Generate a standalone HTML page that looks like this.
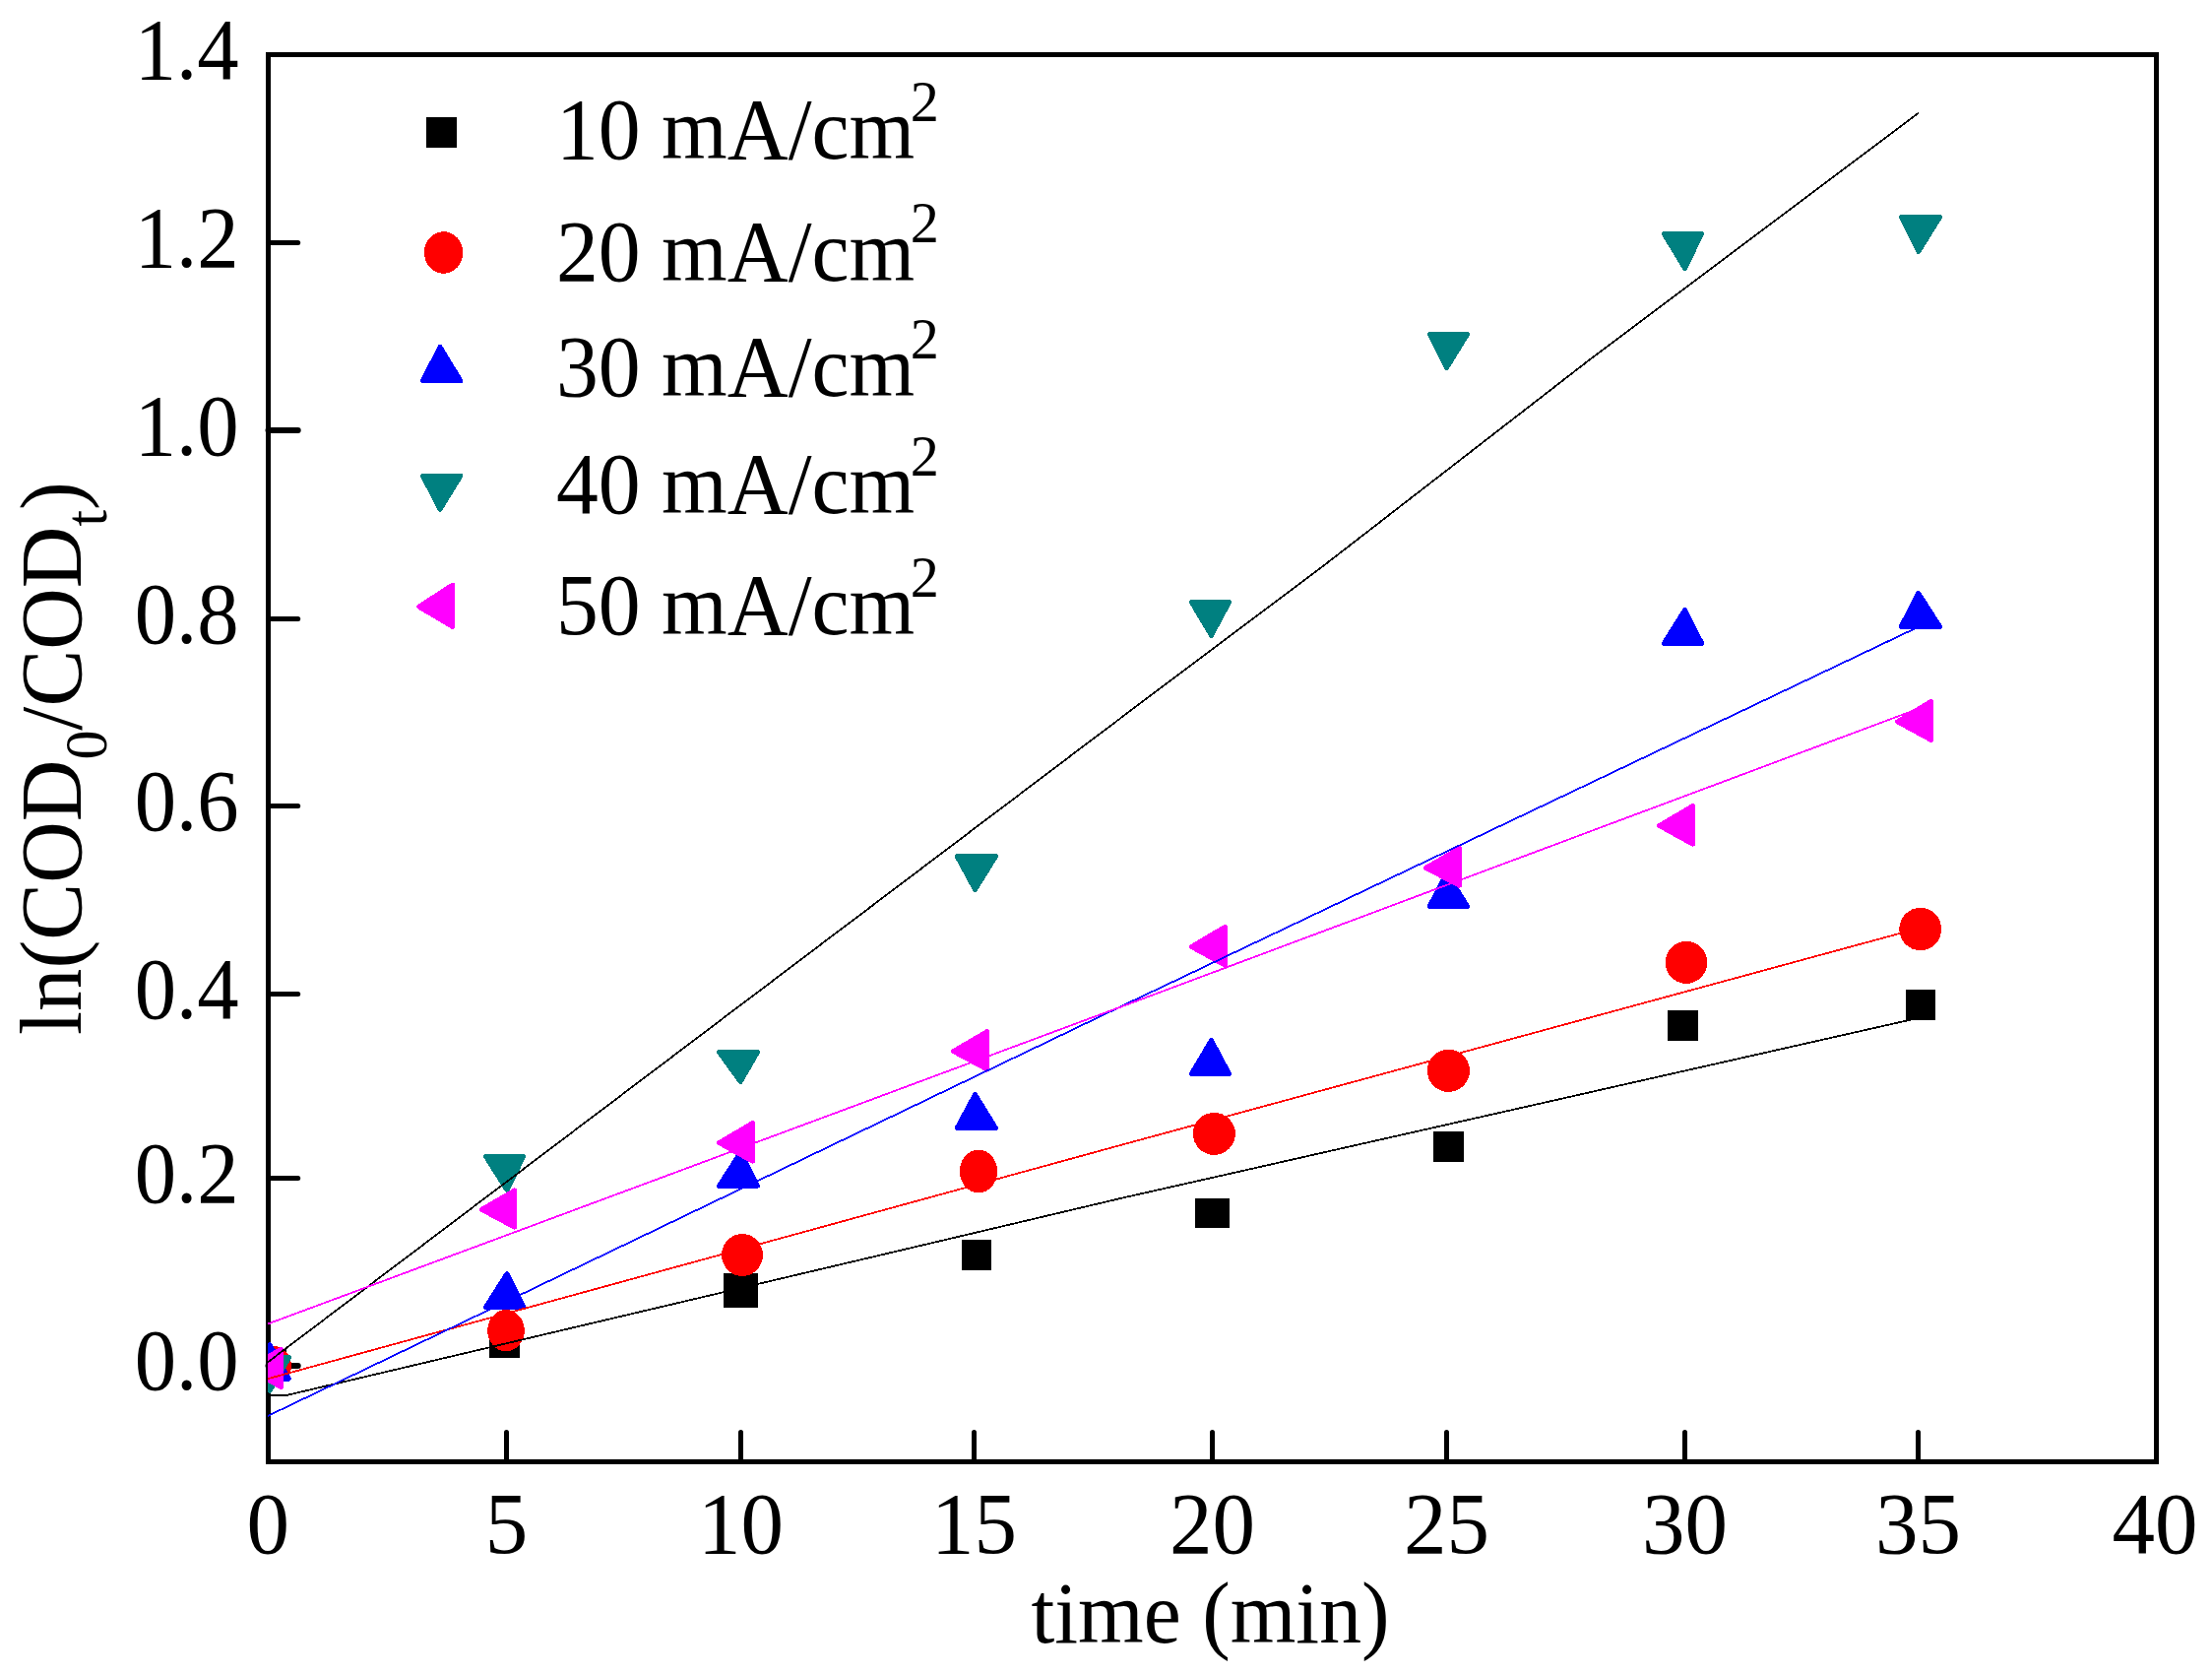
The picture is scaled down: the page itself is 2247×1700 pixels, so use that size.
<!DOCTYPE html>
<html lang="en"><head><meta charset="utf-8"><title>ln(COD0/CODt) vs time</title>
<style>html,body{margin:0;padding:0;background:#fff}svg{display:block}text{font-family:'Liberation Serif', 'Times New Roman', serif;fill:#000}</style></head><body>
<svg width="2247" height="1700" viewBox="0 0 2247 1700" role="img" aria-label="ln(COD0/CODt) versus time chart">
<rect x="0" y="0" width="2247" height="1700" fill="#ffffff"/>
<g shape-rendering="crispEdges" stroke="#000" stroke-width="5" fill="none">
<rect x="272.5" y="55.5" width="1918.0" height="1429.0"/>
</g>
<g stroke="#000" stroke-width="5" stroke-linecap="round" fill="none">
<line x1="272.5" y1="246.5" x2="302.7" y2="246.5" stroke-width="5"/>
<line x1="272.5" y1="437.0" x2="302.7" y2="437.0" stroke-width="6"/>
<line x1="272.5" y1="628.5" x2="302.7" y2="628.5" stroke-width="5"/>
<line x1="272.5" y1="818.5" x2="302.7" y2="818.5" stroke-width="5"/>
<line x1="272.5" y1="1009.5" x2="302.7" y2="1009.5" stroke-width="5"/>
<line x1="272.5" y1="1196.5" x2="302.7" y2="1196.5" stroke-width="5"/>
<line x1="272.5" y1="1387.0" x2="302.7" y2="1387.0" stroke-width="6"/>
<line x1="514.5" y1="1484.5" x2="514.5" y2="1454.5"/>
<line x1="752.5" y1="1484.5" x2="752.5" y2="1454.5"/>
<line x1="989.5" y1="1484.5" x2="989.5" y2="1454.5"/>
<line x1="1231.5" y1="1484.5" x2="1231.5" y2="1454.5"/>
<line x1="1469.5" y1="1484.5" x2="1469.5" y2="1454.5"/>
<line x1="1711.5" y1="1484.5" x2="1711.5" y2="1454.5"/>
<line x1="1948.5" y1="1484.5" x2="1948.5" y2="1454.5"/>
</g>
<defs><clipPath id="plotclip"><rect x="272" y="55" width="1919" height="1430"/></clipPath></defs>
<g clip-path="url(#plotclip)" shape-rendering="crispEdges">
<rect x="257.5" y="1370.0" width="33.0" height="33.0" fill="#000000"/>
<rect x="497.0" y="1347.7" width="31.0" height="31.0" fill="#000000"/>
<rect x="735.0" y="1293.0" width="35.0" height="35.0" fill="#000000"/>
<rect x="977.0" y="1259.0" width="29.7" height="31.0" fill="#000000"/>
<rect x="1214.0" y="1217.0" width="35.0" height="30.0" fill="#000000"/>
<rect x="1455.8" y="1148.7" width="31.4" height="31.1" fill="#000000"/>
<rect x="1693.7" y="1025.9" width="31.4" height="31.0" fill="#000000"/>
<rect x="1936.0" y="1005.1" width="29.9" height="30.8" fill="#000000"/>
<ellipse cx="275.8" cy="1387.0" rx="20.2" ry="20.5" fill="#ff0000"/>
<ellipse cx="514.0" cy="1351.2" rx="18.8" ry="21.1" fill="#ff0000"/>
<ellipse cx="754.0" cy="1274.5" rx="21.0" ry="21.5" fill="#ff0000"/>
<ellipse cx="994.0" cy="1189.5" rx="19.2" ry="21.8" fill="#ff0000"/>
<ellipse cx="1233.4" cy="1151.4" rx="21.5" ry="21.5" fill="#ff0000"/>
<ellipse cx="1471.4" cy="1087.3" rx="21.6" ry="21.6" fill="#ff0000"/>
<ellipse cx="1713.0" cy="977.4" rx="21.2" ry="21.5" fill="#ff0000"/>
<ellipse cx="1950.7" cy="943.5" rx="21.4" ry="21.7" fill="#ff0000"/>
<polygon points="274.0,1365.4 254.4,1400.2 293.5,1400.2" fill="#0000ff" stroke="#0000ff" stroke-width="4.8" stroke-linejoin="round"/>
<polygon points="515.0,1293.5 493.4,1327.4 531.8,1327.4" fill="#0000ff" stroke="#0000ff" stroke-width="4.8" stroke-linejoin="round"/>
<polygon points="752.2,1170.4 730.4,1204.3 769.6,1204.3" fill="#0000ff" stroke="#0000ff" stroke-width="4.8" stroke-linejoin="round"/>
<polygon points="990.5,1111.4 972.1,1145.6 1011.6,1145.6" fill="#0000ff" stroke="#0000ff" stroke-width="4.8" stroke-linejoin="round"/>
<polygon points="1230.5,1056.4 1210.3,1090.6 1248.7,1090.6" fill="#0000ff" stroke="#0000ff" stroke-width="4.8" stroke-linejoin="round"/>
<polygon points="1469.5,886.4 1452.2,920.4 1490.7,920.4" fill="#0000ff" stroke="#0000ff" stroke-width="4.8" stroke-linejoin="round"/>
<polygon points="1711.5,619.4 1690.2,653.4 1728.8,653.4" fill="#0000ff" stroke="#0000ff" stroke-width="4.8" stroke-linejoin="round"/>
<polygon points="1948.8,602.2 1931.0,636.6 1970.7,636.6" fill="#0000ff" stroke="#0000ff" stroke-width="4.8" stroke-linejoin="round"/>
<polygon points="254.4,1378.4 293.7,1378.4 274.0,1412.6" fill="#008080" stroke="#008080" stroke-width="4.8" stroke-linejoin="round"/>
<polygon points="493.4,1174.4 531.8,1174.4 515.0,1208.6" fill="#008080" stroke="#008080" stroke-width="4.8" stroke-linejoin="round"/>
<polygon points="730.4,1068.4 769.6,1068.4 752.2,1098.6" fill="#008080" stroke="#008080" stroke-width="4.8" stroke-linejoin="round"/>
<polygon points="972.1,869.6 1011.6,869.6 990.5,903.6" fill="#008080" stroke="#008080" stroke-width="4.8" stroke-linejoin="round"/>
<polygon points="1210.3,611.4 1248.7,611.4 1230.5,645.5" fill="#008080" stroke="#008080" stroke-width="4.8" stroke-linejoin="round"/>
<polygon points="1452.2,339.3 1490.7,339.3 1469.5,373.7" fill="#008080" stroke="#008080" stroke-width="4.8" stroke-linejoin="round"/>
<polygon points="1690.2,237.4 1728.7,237.4 1711.5,272.6" fill="#008080" stroke="#008080" stroke-width="4.8" stroke-linejoin="round"/>
<polygon points="1931.3,220.4 1970.7,220.4 1948.8,255.6" fill="#008080" stroke="#008080" stroke-width="4.8" stroke-linejoin="round"/>
<polygon points="251.4,1390.1 285.7,1370.1 285.7,1408.6" fill="#ff00ff" stroke="#ff00ff" stroke-width="4.8" stroke-linejoin="round"/>
<polygon points="489.3,1228.4 522.8,1208.9 522.8,1246.3" fill="#ff00ff" stroke="#ff00ff" stroke-width="4.8" stroke-linejoin="round"/>
<polygon points="730.4,1160.6 764.6,1140.4 764.6,1179.3" fill="#ff00ff" stroke="#ff00ff" stroke-width="4.8" stroke-linejoin="round"/>
<polygon points="968.4,1067.6 1002.9,1047.4 1002.9,1086.2" fill="#ff00ff" stroke="#ff00ff" stroke-width="4.8" stroke-linejoin="round"/>
<polygon points="1210.3,961.5 1244.6,941.1 1244.6,980.2" fill="#ff00ff" stroke="#ff00ff" stroke-width="4.8" stroke-linejoin="round"/>
<polygon points="1448.3,881.3 1482.6,861.6 1482.6,899.4" fill="#ff00ff" stroke="#ff00ff" stroke-width="4.8" stroke-linejoin="round"/>
<polygon points="1685.6,838.6 1719.6,818.3 1719.6,857.3" fill="#ff00ff" stroke="#ff00ff" stroke-width="4.8" stroke-linejoin="round"/>
<polygon points="1927.4,732.8 1961.6,712.4 1961.6,751.5" fill="#ff00ff" stroke="#ff00ff" stroke-width="4.8" stroke-linejoin="round"/>
<polyline points="272.0,1417.0 291.0,1417.0 1140.0,1216.6 1948.0,1034.0" fill="none" stroke="#000000" stroke-width="1.8" stroke-linecap="butt" stroke-linejoin="round"/>
<polyline points="272.0,1400.2 1140.0,1162.5 1948.0,943.0" fill="none" stroke="#ff0000" stroke-width="1.8" stroke-linecap="butt" stroke-linejoin="round"/>
<polyline points="272.0,1438.0 1140.0,1021.5 1948.0,637.0" fill="none" stroke="#0000ff" stroke-width="1.8" stroke-linecap="butt" stroke-linejoin="round"/>
<polyline points="272.0,1383.3 1140.0,728.0 1340.0,578.0 1610.0,369.0 1810.0,219.0 1949.0,114.6" fill="none" stroke="#000000" stroke-width="1.8" stroke-linecap="butt" stroke-linejoin="round"/>
<polyline points="272.0,1344.5 1140.0,1022.0 1948.0,720.0" fill="none" stroke="#ff00ff" stroke-width="1.8" stroke-linecap="butt" stroke-linejoin="round"/>
</g>
<g shape-rendering="crispEdges">
<rect x="432.8" y="119.0" width="31.4" height="31.0" fill="#000000"/>
<ellipse cx="450.6" cy="256.5" rx="19.7" ry="21.3" fill="#ff0000"/>
<polygon points="447.0,352.2 429.4,386.7 467.9,386.7" fill="#0000ff" stroke="#0000ff" stroke-width="4.8" stroke-linejoin="round"/>
<polygon points="429.4,483.3 467.9,483.3 447.0,517.3" fill="#008080" stroke="#008080" stroke-width="4.8" stroke-linejoin="round"/>
<polygon points="425.5,616.1 459.7,594.0 459.7,636.6" fill="#ff00ff" stroke="#ff00ff" stroke-width="4.8" stroke-linejoin="round"/>
</g>
<text transform="translate(242.50 80.10) scale(0.9580 1)" font-size="88.40" text-anchor="end">1.4</text>
<text transform="translate(242.50 271.30) scale(0.9580 1)" font-size="88.40" text-anchor="end">1.2</text>
<text transform="translate(242.50 462.20) scale(0.9580 1)" font-size="88.40" text-anchor="end">1.0</text>
<text transform="translate(242.50 652.80) scale(0.9580 1)" font-size="88.40" text-anchor="end">0.8</text>
<text transform="translate(242.50 843.10) scale(0.9580 1)" font-size="88.40" text-anchor="end">0.6</text>
<text transform="translate(242.50 1034.00) scale(0.9580 1)" font-size="88.40" text-anchor="end">0.4</text>
<text transform="translate(242.50 1221.30) scale(0.9580 1)" font-size="88.40" text-anchor="end">0.2</text>
<text transform="translate(242.50 1411.20) scale(0.9580 1)" font-size="88.40" text-anchor="end">0.0</text>
<text transform="translate(272.30 1577.30) scale(0.9850 1)" font-size="88.40" text-anchor="middle">0</text>
<text transform="translate(514.50 1577.30) scale(0.9850 1)" font-size="88.40" text-anchor="middle">5</text>
<text transform="translate(752.50 1577.30) scale(0.9850 1)" font-size="88.40" text-anchor="middle">10</text>
<text transform="translate(989.50 1577.30) scale(0.9850 1)" font-size="88.40" text-anchor="middle">15</text>
<text transform="translate(1231.50 1577.30) scale(0.9850 1)" font-size="88.40" text-anchor="middle">20</text>
<text transform="translate(1469.50 1577.30) scale(0.9850 1)" font-size="88.40" text-anchor="middle">25</text>
<text transform="translate(1711.50 1577.30) scale(0.9850 1)" font-size="88.40" text-anchor="middle">30</text>
<text transform="translate(1948.50 1577.30) scale(0.9850 1)" font-size="88.40" text-anchor="middle">35</text>
<text transform="translate(2189.00 1577.30) scale(0.9850 1)" font-size="88.40" text-anchor="middle">40</text>
<text transform="translate(1229.50 1668.10) scale(0.9695 1)" font-size="88.40" text-anchor="middle">time (min)</text>
<text transform="translate(565.00 161.40) scale(0.9695 1)" font-size="88.40" text-anchor="start">10 mA/cm<tspan font-size="60.0" dy="-38.3" dx="-4.5">2</tspan></text>
<text transform="translate(565.00 284.70) scale(0.9695 1)" font-size="88.40" text-anchor="start">20 mA/cm<tspan font-size="60.0" dy="-38.3" dx="-4.5">2</tspan></text>
<text transform="translate(565.00 402.30) scale(0.9695 1)" font-size="88.40" text-anchor="start">30 mA/cm<tspan font-size="60.0" dy="-38.3" dx="-4.5">2</tspan></text>
<text transform="translate(565.00 520.90) scale(0.9695 1)" font-size="88.40" text-anchor="start">40 mA/cm<tspan font-size="60.0" dy="-38.3" dx="-4.5">2</tspan></text>
<text transform="translate(565.00 644.10) scale(0.9695 1)" font-size="88.40" text-anchor="start">50 mA/cm<tspan font-size="60.0" dy="-38.3" dx="-4.5">2</tspan></text>
<text transform="translate(81.8 1051) rotate(-90) scale(0.9810 1)" font-size="88.40">ln(COD<tspan font-size="61.0" dy="25.7">0</tspan><tspan dy="-25.7">/COD</tspan><tspan font-size="61.0" dy="25.7">t</tspan><tspan dy="-25.7">)</tspan></text>
</svg></body></html>
